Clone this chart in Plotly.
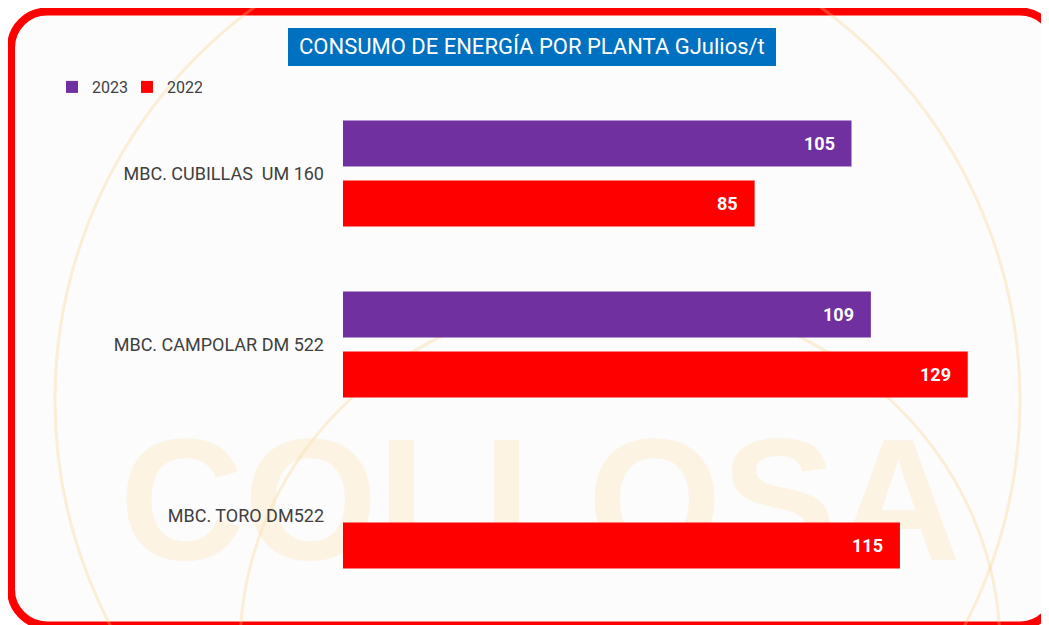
import plotly.graph_objects as go

# ---- data ----
plants = ["MBC. CUBILLAS  UM 160", "MBC. CAMPOLAR DM 522", "MBC. TORO DM522"]
values_2023 = [105, 109, None]
values_2022 = [85, 129, 115]
series_names = ["2023", "2022"]
series_colors = ["#7030A0", "#FF0000"]
title_text = "CONSUMO DE ENERGÍA POR PLANTA GJulios/t"

FONT = "Roboto, Liberation Sans, Arial, sans-serif"

OFF = 8  # page body margin of the html page
W, H = 1049 - OFF, 625 - OFF
# plot area in page pixels
PL, PR, PT, PB = 343, 1021, 88, 601


def px(x):
    return (x - PL) / (PR - PL)


def py(y):
    return (PB - y) / (PB - PT)


fig = go.Figure()
for name, vals, col in zip(series_names, [values_2023, values_2022], series_colors):
    fig.add_trace(go.Bar(
        y=plants, x=vals, name=name, orientation="h",
        marker=dict(color=col, line=dict(width=0)),
        hoverinfo="x+name",
    ))

# value labels
annotations = []
for vals, shift in [(values_2023, 30), (values_2022, -30)]:
    for cat, v in zip(plants, vals):
        if v is None:
            continue
        annotations.append(dict(
            x=v, y=cat, xref="x", yref="y", text=f"<b>{v}</b>", showarrow=False,
            xanchor="right", yanchor="middle", xshift=-15, yshift=shift,
            font=dict(family=FONT, size=18, color="white"),
        ))

# title text
annotations.append(dict(
    x=px(532), y=py(47), xref="paper", yref="paper", text=title_text,
    showarrow=False, xanchor="center", yanchor="middle",
    font=dict(family=FONT, size=22, color="white"),
))

# rounded frame path (page pixels -> paper)
fx0, fy0, fx1, fy1, r = 11, 11.5, 1056, 625.5, 36
k = 0.45


def P(x, y):
    return f"{px(x):.5f},{py(y):.5f}"


frame_path = (
    f"M{P(fx0 + r, fy0)} L{P(fx1 - r, fy0)} "
    f"C{P(fx1 - r * k, fy0)} {P(fx1, fy0 + r * k)} {P(fx1, fy0 + r)} "
    f"L{P(fx1, fy1 - r)} "
    f"C{P(fx1, fy1 - r * k)} {P(fx1 - r * k, fy1)} {P(fx1 - r, fy1)} "
    f"L{P(fx0 + r, fy1)} "
    f"C{P(fx0 + r * k, fy1)} {P(fx0, fy1 - r * k)} {P(fx0, fy1 - r)} "
    f"L{P(fx0, fy0 + r)} "
    f"C{P(fx0, fy0 + r * k)} {P(fx0 + r * k, fy0)} {P(fx0 + r, fy0)} Z"
)

wm = "rgba(250,205,130,0.30)"
shapes = [
    dict(type="path", path=frame_path, xref="paper", yref="paper",
         fillcolor="#FCFCFC", line=dict(color="#FF0000", width=8), layer="below"),
    # faint watermark circles
    dict(type="circle", xref="paper", yref="paper",
         x0=px(55), x1=px(1020), y0=py(-85), y1=py(885),
         line=dict(color=wm, width=3), fillcolor="rgba(0,0,0,0)", layer="below"),
    dict(type="circle", xref="paper", yref="paper",
         x0=px(240), x1=px(1000), y0=py(295), y1=py(1000),
         line=dict(color=wm, width=3), fillcolor="rgba(0,0,0,0)", layer="below"),
    # watermark word
    dict(type="rect", xref="paper", yref="paper",
         x0=px(95), x1=px(985), y0=py(415), y1=py(550),
         line=dict(width=0), fillcolor="rgba(0,0,0,0)", layer="below",
         label=dict(text="<b>COLLOSA</b>", textposition="middle center",
                    font=dict(family="Liberation Sans, Arial", size=172,
                              color="rgba(252,225,180,0.35)"))),
    # title box
    dict(type="rect", xref="paper", yref="paper",
         x0=px(288), x1=px(776), y0=py(66), y1=py(28),
         fillcolor="#0070C0", line=dict(width=0), layer="below"),
]

fig.update_layout(
    width=W, height=H,
    margin=dict(l=PL - OFF, r=W - (PR - OFF), t=PT - OFF, b=H - (PB - OFF), pad=0),
    paper_bgcolor="white", plot_bgcolor="rgba(0,0,0,0)",
    barmode="group", bargap=0.298, bargroupgap=0.233,
    font=dict(family=FONT, color="#404040"),
    xaxis=dict(range=[0, 140], visible=False, fixedrange=True),
    yaxis=dict(autorange="reversed", showgrid=False, showline=False, ticks="",
               tickfont=dict(family=FONT, size=18, color="#404040"),
               ticklabelstandoff=18, fixedrange=True),
    legend=dict(orientation="h", x=px(52), y=py(87), xanchor="left", yanchor="middle",
                font=dict(family=FONT, size=16, color="#404040"),
                bgcolor="rgba(0,0,0,0)", itemwidth=30, traceorder="normal",
                entrywidth=30, entrywidthmode="pixels"),
    shapes=shapes,
    annotations=annotations,
    showlegend=True,
)

fig.write_html("out.html")
